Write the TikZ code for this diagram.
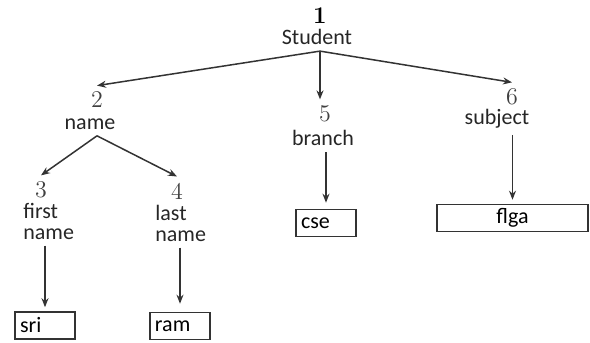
\documentclass[tikz,border=0pt]{standalone}
\usepackage{fontspec}
\setsansfont{Carlito}
\usetikzlibrary{positioning,arrows.meta}

\begin{document}
\begin{tikzpicture}[x=0.5pt,y=-0.5pt,
	num/.style={inner xsep=0pt,inner ysep=3pt,font=\fontsize{12}{14}\selectfont,text=black!75},
	lbl/.style={inner xsep=0pt,inner ysep=3pt,font=\sffamily\fontsize{11}{10.5}\selectfont,align=left,text=black!85},
	leaf/.style={draw=black!80,line width=0.8pt,minimum height=13.5pt,inner xsep=2.5pt,inner ysep=0pt,font=\sffamily\fontsize{11}{12}\selectfont},
	edge/.style={draw=black!80,line width=0.75pt,-{Stealth[length=4.5pt,width=3.5pt]}}]
				\useasboundingbox (0,0) rectangle (590,343);
				% root
				\node[num,font=\bfseries\fontsize{12}{14}\selectfont,text=black] (n1) at (320,16) {1};
				\node[lbl] (st) at (317,37) {Student};
				% level one
				\node[num] (n2) at (97,100) {2};
				\node[lbl] (nm) at (90,124) {name};
				\node[num] (n5) at (325,114) {5};
				\node[lbl] (br) at (323,138) {branch};
				\node[num] (n6) at (512,97) {6};
				\node[lbl] (sb) at (497,119) {subject};
				% level two
				\node[num] (n3) at (41,190) {3};
				\node[lbl,anchor=west] (fn) at (23,221) {first\\name};
				\node[num] (n4) at (177,191) {4};
				\node[lbl,anchor=west] (ln) at (155,223) {last\\name};
				% values
				\node[leaf,text width=25pt,align=left] (sri) at (45,325.5) {sri};
				\node[leaf,text width=25pt,align=left] (ram) at (180,326) {ram};
				\node[leaf,text width=25pt,align=left] (cse) at (326,223) {cse};
				\node[leaf,text width=70.5pt,align=center] (flga) at (512.5,218) {flga};
				% connectors
				\draw[edge] ([xshift=1.5pt]st.south) -- (n2.north);
				\draw[edge] ([xshift=1.5pt]st.south) -- ([xshift=1.5pt]st.south |- n5.north);
				\draw[edge] ([xshift=1.5pt]st.south) -- (n6.north);
				\draw[edge] ([xshift=3.5pt]nm.south) -- (n3.north);
				\draw[edge] ([xshift=3.5pt]nm.south) -- (n4.north);
				\draw[edge,shorten >=2pt] (sri.north |- fn.south) -- (sri.north);
				\draw[edge,shorten >=4pt] (ram.north |- ln.south) -- (ram.north);
				\draw[edge,shorten >=3pt] (cse.north |- br.south) -- (cse.north);
				\draw[edge,shorten >=2pt] (flga.north |- sb.south) -- (flga.north);
\end{tikzpicture}
\end{document}
